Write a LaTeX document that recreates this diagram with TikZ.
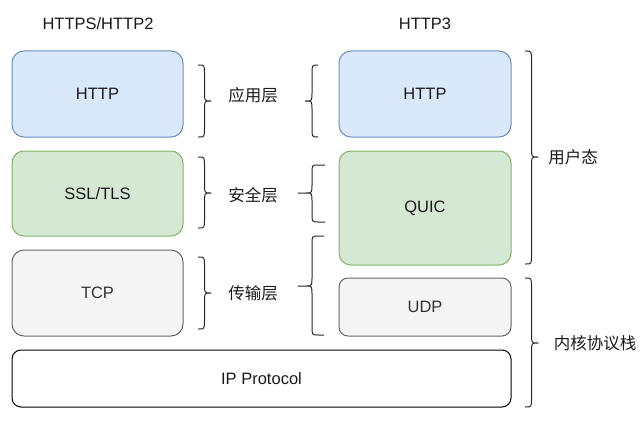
\documentclass[tikz,border=0pt]{standalone}
\usepackage{fontspec}
\setmainfont{Liberation Sans}
\newfontfamily\cjk{Noto Sans CJK SC}
\usetikzlibrary{positioning}
\definecolor{appfill}{HTML}{DAE8FC}
\definecolor{appline}{HTML}{6C8EBF}
\definecolor{secfill}{HTML}{D5E8D4}
\definecolor{secline}{HTML}{82B366}
\definecolor{tptfill}{HTML}{F5F5F5}
\definecolor{tptline}{HTML}{666666}
\definecolor{ink}{HTML}{1A1A1A}
\begin{document}
\begin{tikzpicture}[x=1pt, y=-1pt,
	layer/.style = {draw, line width=1pt, rounded corners=12, inner sep=0,
		minimum width=171, minimum height=86, font=\fontsize{16.5}{18}\selectfont, text=ink},
	applayer/.style = {layer, fill=appfill, draw=appline},
	seclayer/.style = {layer, fill=secfill, draw=secline},
	tptlayer/.style = {layer, fill=tptfill, draw=tptline, text=black!80},
	title/.style = {font=\fontsize{16.5}{18}\selectfont, text=ink},
	tag/.style = {font=\cjk\fontsize{16.5}{18}\selectfont, text=ink},
	bracket/.style = {line width=1pt, black!85, line join=round}
]
\useasboundingbox (0, 0) rectangle (644, 420);

\node[title] (titleold) at (98, 23.5) {HTTPS/HTTP2};
\node[title] (titlenew) at (425, 23.5) {HTTP3};

\node[applayer] (httpold) at (97.5, 94) {HTTP};
\node[seclayer, minimum height=85] (ssl) at (97.5, 193.5) {SSL/TLS};
\node[tptlayer] (tcp) at (97.5, 293) {TCP};
\node[layer, minimum width=499, minimum height=57, rounded corners=9, draw=black] (ip) at (261.5, 378.5) {IP Protocol};

\node[applayer, minimum width=172] (httpnew) at (425, 94) {HTTP};
\node[seclayer, minimum width=172, minimum height=114] (quic) at (425, 208) {QUIC};
\node[tptlayer, minimum width=172, minimum height=58, rounded corners=9] (udp) at (425, 307) {UDP};

\node[tag] (app) at (253, 95) {应用层};
\node[tag] (sec) at (253, 195) {安全层};
\node[tag] (tpt) at (253, 293) {传输层};
\node[tag] (user) at (573, 157) {用户态};
\node[tag] (kernel) at (595, 343) {内核协议栈};

% ends x / middle x / tip x / top y / tip y / bottom y / side
\foreach \xe/\xm/\xt/\yt/\ym/\yb/\s in {
	198/204.5/211/65/101/137/1, 198/204.5/211/157/193/228/1, 198/204.5/211/257/293/329/1,
	318/312/305/65/101/137/-1, 325/312/298/165/193/222/-1, 324/312/298/236/286/335/-1,
	525/531.5/538/51/157/264/1, 525/531.5/538/278/343/407/1}
	\draw[bracket] (\xe, \yt) -- ({\xm-6*\s}, \yt) .. controls (\xm, \yt) .. (\xm, {\yt+9})
		-- (\xm, {\ym-9}) .. controls (\xm, \ym) .. ({\xm+6*\s}, \ym) -- (\xt, \ym)
		-- ({\xm+6*\s}, \ym) .. controls (\xm, \ym) .. (\xm, {\ym+9})
		-- (\xm, {\yb-9}) .. controls (\xm, \yb) .. ({\xm-6*\s}, \yb) -- (\xe, \yb);
\end{tikzpicture}
\end{document}
